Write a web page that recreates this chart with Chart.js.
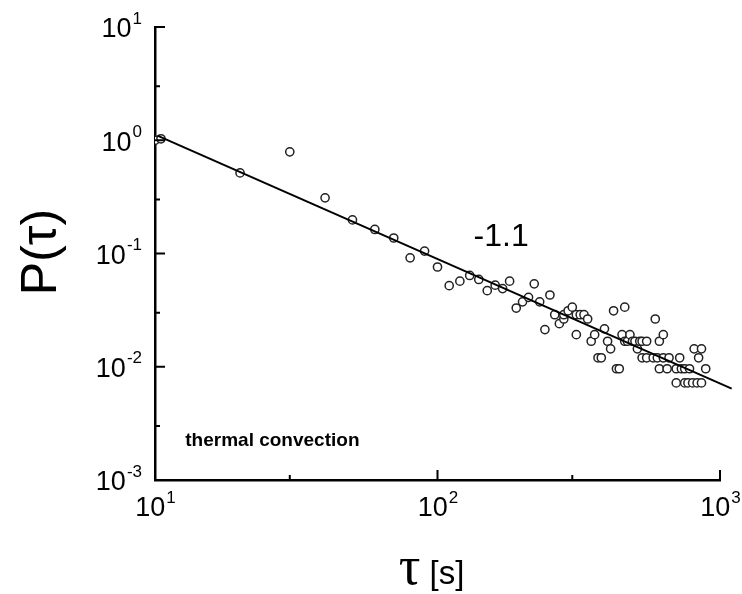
<!DOCTYPE html>
<html>
<head>
<meta charset="utf-8">
<script src="https://cdn.jsdelivr.net/npm/chart.js@4.4.0/dist/chart.umd.min.js"></script>
<style>
  html, body { margin: 0; padding: 0; background: #fff; }
</style>
</head>
<body>
<canvas id="chart" width="742" height="594"></canvas>
<script>
// waiting times tau [s] and their probability
const tau = [10, 10.5, 20, 30, 40, 50, 60, 70, 80, 90,
  100, 110, 120, 130, 140, 150, 160, 170, 180, 190,
  200, 210, 220, 230, 240, 250, 260, 270, 280, 280,
  290, 300, 310, 310, 320, 330, 340, 350, 360, 370,
  380, 390, 400, 410, 420, 430, 440, 450, 460, 460,
  470, 480, 490, 500, 510, 520, 530, 530, 550, 550,
  580, 590, 600, 610, 610, 630, 630, 650, 660, 700,
  700, 720, 730, 750, 750, 770, 780, 800, 810, 830,
  840, 860, 860, 890];
const prob = [1.0, 1.03, 0.515, 0.79, 0.31, 0.198, 0.163, 0.137, 0.0915, 0.105,
  0.076, 0.052, 0.057, 0.064, 0.059, 0.047, 0.0525, 0.049, 0.057, 0.033,
  0.0374, 0.041, 0.054, 0.0374, 0.0213, 0.043, 0.0288, 0.024, 0.0264, 0.0288,
  0.0312, 0.0336, 0.0192, 0.0288, 0.0288, 0.0288, 0.0264, 0.0168, 0.0192, 0.012,
  0.012, 0.0216, 0.0168, 0.0144, 0.0312, 0.0096, 0.0096, 0.0192, 0.0336, 0.0168,
  0.0168, 0.0192, 0.0168, 0.0168, 0.0144, 0.0168, 0.012, 0.0168, 0.0168, 0.012,
  0.012, 0.0264, 0.012, 0.0168, 0.0096, 0.0192, 0.012, 0.0096, 0.012, 0.0072,
  0.0096, 0.012, 0.0096, 0.0072, 0.0096, 0.0072, 0.0096, 0.0072, 0.0144, 0.0072,
  0.012, 0.0144, 0.0072, 0.0096];

// power law fit, slope -1.1
const fitTau = [10.2, 1100];
const fitProb = [1.1, 0.0064];

const xTicks = [10, 100, 1000];
const xMinor = [30, 300];
const yTicks = [10, 1, 0.1, 0.01, 0.001];
const yMinor = [3, 0.3, 0.03, 0.003];

const slopeText = '-1.1';
const slopeAt = {x: 168, y: 0.14};
const noteText = 'thermal convection';
const noteAt = {x: 12.8, y: 0.002};

const SANS = '"Liberation Sans", Arial, sans-serif';

// draws "10" with a raised exponent
function drawPow(ctx, exp, x, y, align) {
  ctx.font = '27px ' + SANS;
  const wBase = ctx.measureText('10').width;
  ctx.font = '17px ' + SANS;
  const wExp = ctx.measureText(exp).width;
  let left = align === 'right' ? x - wBase - wExp : x - (wBase + wExp) / 2;
  ctx.textAlign = 'left';
  ctx.textBaseline = 'middle';
  ctx.font = '27px ' + SANS;
  ctx.fillText('10', left, y);
  ctx.font = '17px ' + SANS;
  ctx.fillText(exp, left + wBase + 1, y - 11);
}

const decor = {
  id: 'decor',
  afterDraw(chart) {
    const ctx = chart.ctx;
    const xs = chart.scales.x, ys = chart.scales.y;
    const a = chart.chartArea;
    ctx.save();
    ctx.strokeStyle = '#000';
    ctx.fillStyle = '#000';
    ctx.lineWidth = 2;

    // ticks point inward
    ctx.beginPath();
    xTicks.forEach(v => { const p = xs.getPixelForValue(v); ctx.moveTo(p, a.bottom); ctx.lineTo(p, a.bottom - 10); });
    xMinor.forEach(v => { const p = xs.getPixelForValue(v); ctx.moveTo(p, a.bottom); ctx.lineTo(p, a.bottom - 5); });
    yTicks.forEach(v => { const p = ys.getPixelForValue(v); ctx.moveTo(a.left, p); ctx.lineTo(a.left + 10, p); });
    yMinor.forEach(v => { const p = ys.getPixelForValue(v); ctx.moveTo(a.left, p); ctx.lineTo(a.left + 5, p); });
    ctx.stroke();

    // tick labels
    xTicks.forEach(v => drawPow(ctx, String(Math.round(Math.log10(v))), xs.getPixelForValue(v), a.bottom + 29, 'center'));
    yTicks.forEach(v => drawPow(ctx, String(Math.round(Math.log10(v))), a.left - 14, ys.getPixelForValue(v) + 3, 'right'));

    // slope label and note
    ctx.textAlign = 'center';
    ctx.textBaseline = 'middle';
    ctx.font = '32px ' + SANS;
    ctx.fillText(slopeText, xs.getPixelForValue(slopeAt.x), ys.getPixelForValue(slopeAt.y));
    ctx.textAlign = 'left';
    ctx.textBaseline = 'alphabetic';
    ctx.font = 'bold 19px ' + SANS;
    ctx.fillText(noteText, xs.getPixelForValue(noteAt.x), ys.getPixelForValue(noteAt.y));

    // axis titles
    ctx.save();
    ctx.translate(42, 252);
    ctx.rotate(-Math.PI / 2);
    ctx.textAlign = 'center';
    ctx.textBaseline = 'middle';
    ctx.font = '50px ' + SANS;
    ctx.fillText('P(τ)', 0, 0);
    ctx.restore();

    ctx.textBaseline = 'alphabetic';
    ctx.font = '54px "Liberation Serif", serif';
    const wTau = ctx.measureText('τ').width;
    ctx.font = '33px ' + SANS;
    const wRest = ctx.measureText(' [s]').width;
    const cx = (a.left + a.right) / 2 - 6;
    let left = cx - (wTau + wRest) / 2;
    ctx.font = '54px "Liberation Serif", serif';
    ctx.fillText('τ', left, 584);
    ctx.font = '33px ' + SANS;
    ctx.fillText(' [s]', left + wTau, 584);
    ctx.restore();
  }
};

const fitData = fitTau.map((t, i) => ({x: t, y: fitProb[i]}));
const pointData = tau.map((t, i) => ({x: t, y: prob[i]}));

new Chart(document.getElementById('chart'), {
  type: 'scatter',
  data: {
    datasets: [
      {
        type: 'line',
        data: fitData,
        borderColor: '#000',
        borderWidth: 2,
        pointRadius: 0,
        clip: false
      },
      {
        data: pointData,
        pointRadius: 4.1,
        borderWidth: 1.5,
        borderColor: '#222',
        backgroundColor: '#fff'
      }
    ]
  },
  options: {
    responsive: false,
    devicePixelRatio: 1,
    animation: false,
    layout: { padding: { top: 27, right: 22, left: 0, bottom: 0 } },
    plugins: { legend: { display: false }, tooltip: { enabled: false } },
    scales: {
      x: {
        type: 'logarithmic',
        min: 10,
        max: 1000,
        ticks: { display: false },
        grid: { display: false },
        border: { display: true, color: '#000', width: 2.5 },
        afterFit(s) { s.height = 114; }
      },
      y: {
        type: 'logarithmic',
        min: 0.001,
        max: 10,
        ticks: { display: false },
        grid: { display: false },
        border: { display: true, color: '#000', width: 2.5 },
        afterFit(s) { s.width = 155; }
      }
    }
  },
  plugins: [decor]
});
</script>
</body>
</html>
